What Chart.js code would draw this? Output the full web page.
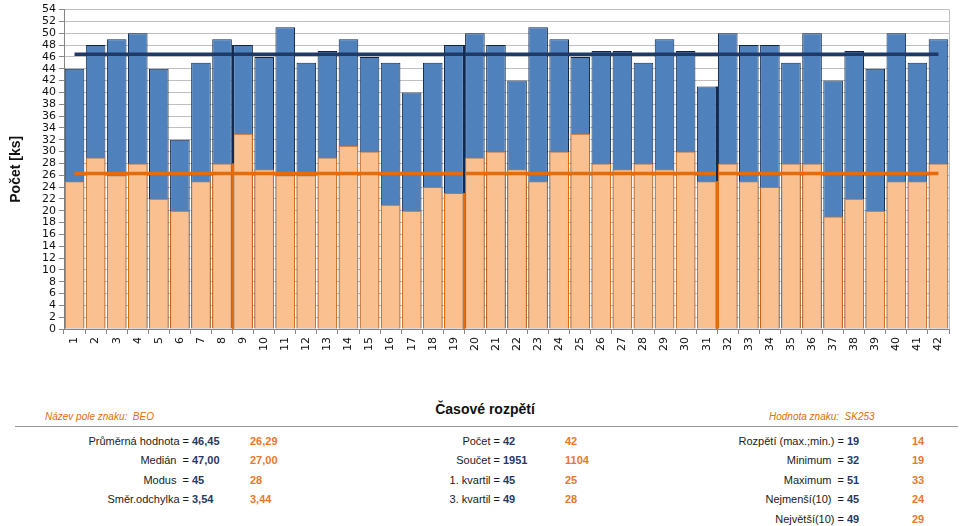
<!DOCTYPE html>
<html>
<head>
<meta charset="utf-8">
<script src="https://cdn.jsdelivr.net/npm/chart.js@4/dist/chart.umd.min.js"></script>
<style>
  body { margin: 0; background: #fff; width: 975px; height: 526px; overflow: hidden; position: relative; font-family: "Liberation Sans", Arial, sans-serif; }
  #graf { position: absolute; left: 0; top: 0; }
  .t { position: absolute; font-size: 11px; line-height: 19px; white-space: pre; color: #1a1a1a; }
  .lbl { text-align: right; }
  .mod { font-weight: bold; color: #1F3A66; }
  .ora { font-weight: bold; color: #E8782E; }
  .pozn { position: absolute; font-size: 10px; font-style: italic; color: #E46C0A; white-space: pre; }
  #osaX { position: absolute; left: 0; width: 970px; top: 401px; text-align: center; font-size: 14px; font-weight: bold; color: #111; }
  #cara { position: absolute; left: 15px; width: 943px; top: 426px; height: 0; border-top: 1px solid #9a9a9a; }
</style>
</head>
<body>
<canvas id="graf" width="975" height="370"></canvas>
<div id="osaX">Časové rozpětí</div>
<div class="pozn" style="left:45px; top:411px;">Název pole znaku:  BEO</div>
<div class="pozn" style="left:769px; top:411px;">Hodnota znaku:  SK253</div>
<div id="cara"></div>
<div id="stats"></div>
<script>
// TODO data grafu
const kategorie = ["1","2","3","4","5","6","7","8","9","10","11","12","13","14","15","16","17","18","19","20","21",
  "22","23","24","25","26","27","28","29","30","31","32","33","34","35","36","37","38","39","40","41","42"];
const celkem = [44,48,49,50,44,32,45,49,48,46,51,45,47,49,46,45,40,45,48,50,48,
  42,51,49,46,47,47,45,49,47,41,50,48,48,45,50,42,47,44,50,45,49];
const znak = [25,29,26,28,22,20,25,28,33,27,26,26,29,31,30,21,20,24,23,29,30,
  27,25,30,33,28,27,28,27,30,25,28,25,24,28,28,19,22,20,25,25,28];
const prumerCelkem = 46.45;
const prumerZnak = 26.29;
const oddelovace = [8, 19, 31]; // za kterou kategorii je svisla cara
const osaYMax = 54;
const osaYKrok = 2;

// statistiky pod grafem
const popisky1 = ["Průměrná hodnota =", "Medián  =", "Modus  =", "Směr.odchylka ="];
const modre1 = ["46,45", "47,00", "45", "3,54"];
const oranz1 = ["26,29", "27,00", "28", "3,44"];
const popisky2 = ["Počet =", "Součet =", "1. kvartil =", "3. kvartil ="];
const modre2 = ["42", "1951", "45", "49"];
const oranz2 = ["42", "1104", "25", "28"];
const popisky3 = ["Rozpětí (max.;min.) =", "Minimum  =", "Maximum  =", "Nejmenší(10)  =", "Největší(10) ="];
const modre3 = ["19", "32", "51", "45", "49"];
const oranz3 = ["14", "19", "33", "24", "29"];

//! vypis statistik
const stats = document.getElementById("stats");
let html = "";
const sloupec = (popisky, modre, oranz, xKonec, xModra, xOranz) => {
  popisky.forEach((p, i) => {
    const top = 432 + i * 19.4;
    html += `<div class="t lbl" style="left:${xKonec - 200}px;width:200px;top:${top}px">${p}</div>`;
    html += `<div class="t mod" style="left:${xModra}px;top:${top}px">${modre[i]}</div>`;
    html += `<div class="t ora" style="left:${xOranz}px;top:${top}px">${oranz[i]}</div>`;
  });
};
sloupec(popisky1, modre1, oranz1, 189, 192, 250);
sloupec(popisky2, modre2, oranz2, 500, 503, 565);
sloupec(popisky3, modre3, oranz3, 844, 847, 912);
stats.innerHTML = html;

//! svisle oddelovace a pravy okraj
const pluginOddelovace = {
  id: "oddelovace",
  afterDatasetsDraw(chart) {
    const ctx = chart.ctx;
    const x = chart.scales.x;
    const y = chart.scales.y;
    ctx.save();
    ctx.lineWidth = 2;
    oddelovace.forEach((k) => {
      const px = Math.round((x.getPixelForValue(k - 1) + x.getPixelForValue(k)) / 2);
      const horniZnak = Math.min(znak[k - 1], znak[k]);
      const horniCelkem = Math.min(celkem[k - 1], celkem[k]);
      ctx.strokeStyle = "#E46C0A";
      ctx.beginPath();
      ctx.moveTo(px, y.getPixelForValue(0));
      ctx.lineTo(px, y.getPixelForValue(horniZnak));
      ctx.stroke();
      ctx.strokeStyle = "#0F2A55";
      ctx.beginPath();
      ctx.moveTo(px, y.getPixelForValue(horniZnak));
      ctx.lineTo(px, y.getPixelForValue(horniCelkem));
      ctx.stroke();
    });
    ctx.lineWidth = 1;
    ctx.strokeStyle = "#BFBFBF";
    ctx.beginPath();
    ctx.moveTo(chart.chartArea.right + 0.5, chart.chartArea.top);
    ctx.lineTo(chart.chartArea.right + 0.5, chart.chartArea.bottom);
    ctx.stroke();
    ctx.restore();
  }
};

const tickFont = { family: "DejaVu Sans", size: 11 };

new Chart(document.getElementById("graf"), {
  type: "bar",
  data: {
    labels: kategorie,
    datasets: [
      {
        type: "line",
        data: kategorie.map(() => prumerCelkem),
        borderColor: "#1F3A66",
        borderWidth: 3.5,
        pointRadius: 0,
        order: 0
      },
      {
        type: "line",
        data: kategorie.map(() => prumerZnak),
        borderColor: "#E46C0A",
        borderWidth: 3.5,
        pointRadius: 0,
        order: 0
      },
      {
        data: znak,
        backgroundColor: "#FAC090",
        borderColor: "#E46C0A",
        borderWidth: 1,
        grouped: false,
        barPercentage: 1,
        categoryPercentage: 0.93,
        order: 1
      },
      {
        data: celkem,
        backgroundColor: "#4F81BD",
        borderColor: "#0F2447",
        borderWidth: 1,
        grouped: false,
        barPercentage: 1,
        categoryPercentage: 0.93,
        order: 2
      }
    ]
  },
  options: {
    responsive: false,
    animation: false,
    layout: { padding: { top: 8, right: 26, left: 0, bottom: 0 } },
    plugins: { legend: { display: false }, tooltip: { enabled: false } },
    scales: {
      x: {
        afterFit: (osa) => { osa.height = 41; },
        grid: { offset: true, drawOnChartArea: false, tickLength: 5, tickColor: "#868686" },
        border: { color: "#868686" },
        ticks: { font: tickFont, color: "#111", minRotation: 90, maxRotation: 90, padding: 3, autoSkip: false }
      },
      y: {
        min: 0,
        max: osaYMax,
        afterFit: (osa) => { osa.width = 64; },
        ticks: { stepSize: osaYKrok, font: tickFont, color: "#111", padding: 3, autoSkip: false },
        grid: { color: "#BFBFBF", tickLength: 5, tickColor: "#868686" },
        border: { color: "#868686" },
        title: {
          display: true,
          text: "Počet [ks]",
          font: { family: "Liberation Sans", size: 14, weight: "bold" },
          color: "#111",
          padding: { top: 8, bottom: 0 }
        }
      }
    }
  },
  plugins: [pluginOddelovace]
});
</script>
</body>
</html>
